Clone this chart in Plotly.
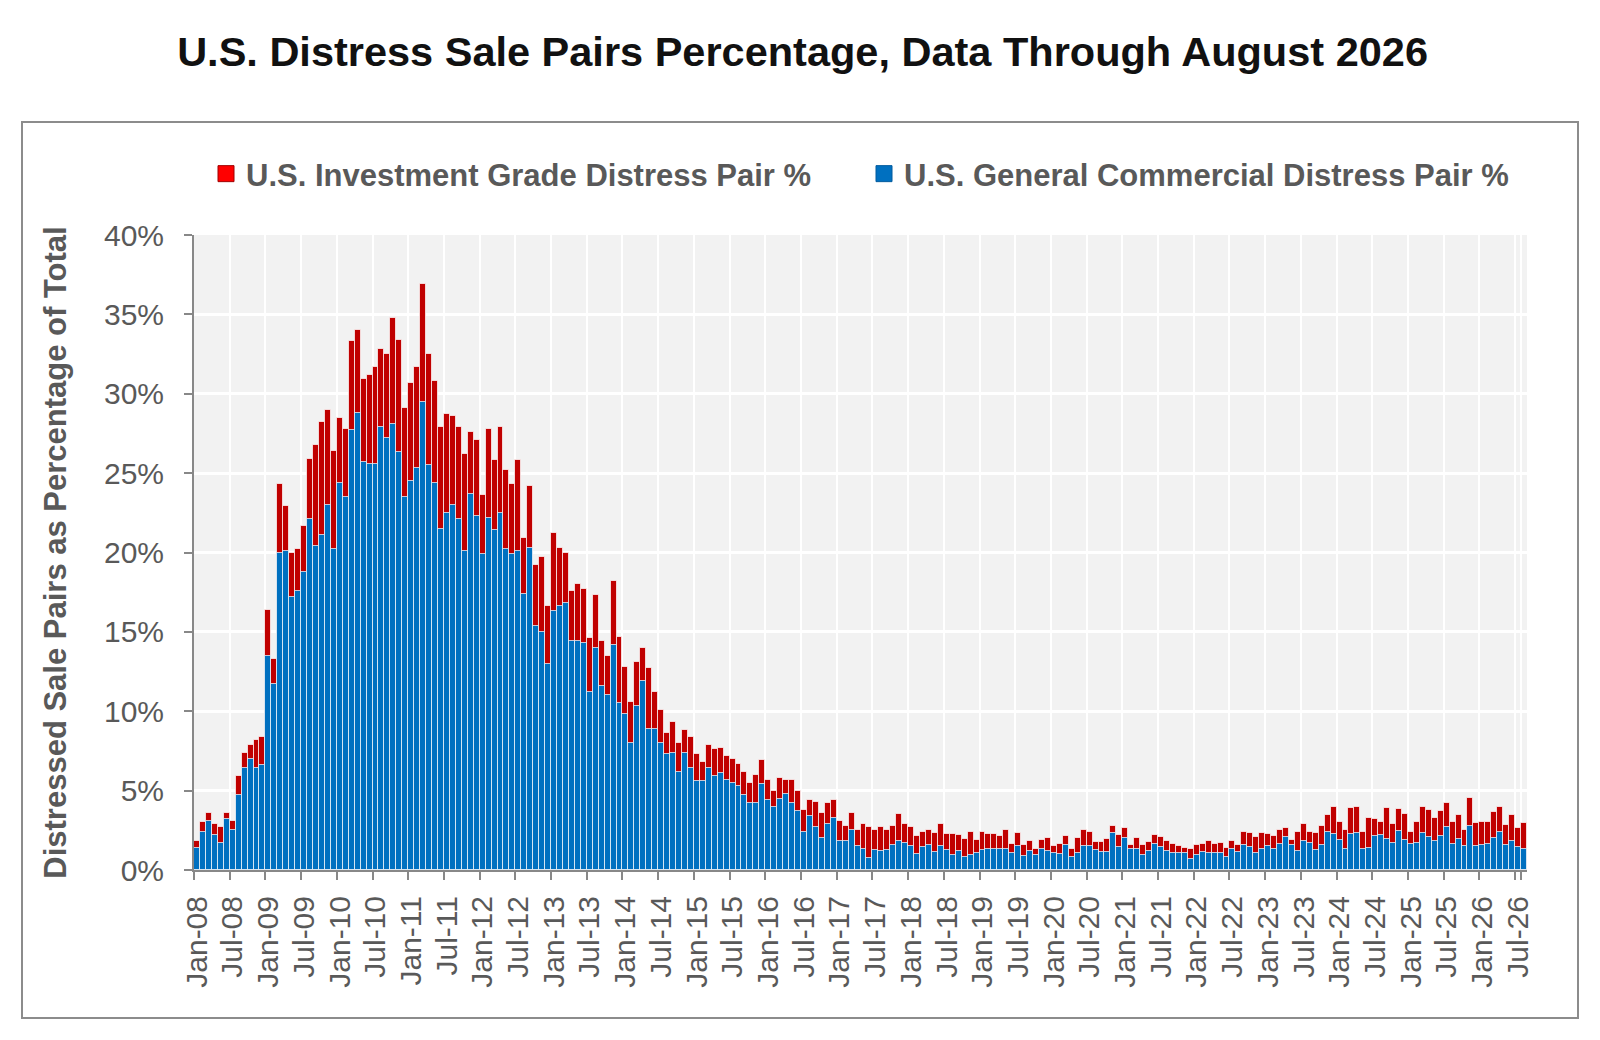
import pandas as pd
import plotly.graph_objects as go

# one bar per month, Jan-08 .. Aug-26
months = pd.date_range("2008-01-01", periods=224, freq="MS").strftime("%b-%y").tolist()
tick_labels = months[::6]  # Jan / Jul only

# investment grade distress pair % (red), one row per year
inv_grade = [
    1.8, 3.0, 3.6, 2.9, 2.7, 3.6, 3.1, 5.9, 7.4, 7.9, 8.2, 8.4,
    16.4, 13.3, 24.3, 22.9, 20.0, 20.2, 21.7, 25.9, 26.8, 28.2, 29.0, 26.4,
    28.5, 27.8, 33.3, 34.0, 30.9, 31.2, 31.7, 32.8, 32.5, 34.8, 33.4, 29.1,
    30.7, 31.7, 36.9, 32.5, 30.8, 27.9, 28.7, 28.6, 27.9, 26.2, 27.6, 27.1,
    23.6, 27.8, 25.8, 27.9, 25.2, 24.3, 25.8, 20.9, 24.2, 19.2, 19.7, 16.6,
    21.2, 20.3, 20.0, 17.6, 18.0, 17.7, 14.6, 17.3, 14.4, 13.5, 18.2, 14.7,
    12.8, 10.6, 13.1, 14.0, 12.7, 11.2, 10.1, 8.6, 9.3, 8.0, 8.8, 8.4,
    7.3, 6.8, 7.9, 7.6, 7.7, 7.2, 7.0, 6.7, 6.2, 5.5, 6.0, 6.9,
    5.7, 5.0, 5.8, 5.7, 5.7, 5.0, 3.8, 4.4, 4.3, 3.6, 4.2, 4.4,
    3.1, 2.75, 3.6, 2.5, 2.9, 2.7, 2.5, 2.7, 2.55, 2.75, 3.55, 2.9,
    2.7, 2.15, 2.4, 2.5, 2.3, 2.9, 2.25, 2.25, 2.2, 1.95, 2.4, 1.9,
    2.4, 2.25, 2.25, 2.15, 2.55, 1.65, 2.3, 1.6, 1.8, 1.35, 1.9, 2.0,
    1.5, 1.65, 2.15, 1.35, 2.0, 2.5, 2.4, 1.75, 1.75, 1.95, 2.8, 2.2,
    2.65, 1.6, 2.0, 1.6, 1.75, 2.2, 2.05, 1.8, 1.65, 1.5, 1.4, 1.35,
    1.55, 1.65, 1.8, 1.65, 1.7, 1.4, 1.8, 1.6, 2.4, 2.3, 2.1, 2.3,
    2.25, 2.15, 2.5, 2.65, 1.9, 2.4, 2.9, 2.4, 2.3, 2.8, 3.45, 4.0,
    3.0, 2.5, 3.9, 3.95, 2.4, 3.3, 3.2, 3.05, 3.9, 2.9, 3.85, 3.5,
    2.4, 3.05, 3.95, 3.8, 3.3, 3.7, 4.25, 3.05, 3.45, 2.5, 4.55, 2.95,
    3.0, 3.0, 3.65, 3.95, 2.85, 3.45, 2.65, 2.95,
]

# general commercial distress pair % (blue)
gen_comm = [
    1.4, 2.4, 3.1, 2.2, 1.7, 3.2, 2.5, 4.7, 6.4, 7.0, 6.4, 6.6,
    13.5, 11.7, 20.0, 20.1, 17.2, 17.6, 18.8, 22.1, 20.4, 21.1, 23.0, 20.2,
    24.4, 23.5, 27.7, 28.8, 25.7, 25.6, 25.6, 27.9, 27.2, 28.1, 26.3, 23.5,
    24.5, 25.3, 29.5, 25.5, 24.4, 21.5, 22.5, 23.0, 22.1, 20.1, 23.7, 22.3,
    19.9, 22.2, 21.4, 22.5, 20.2, 19.9, 20.1, 17.4, 20.3, 15.4, 15.0, 13.0,
    16.3, 16.6, 16.8, 14.4, 14.4, 14.3, 11.2, 14.0, 11.6, 11.0, 14.2, 10.5,
    9.8, 8.0, 10.3, 11.9, 8.9, 8.9, 8.0, 7.3, 7.4, 6.2, 7.4, 6.4,
    5.6, 5.6, 6.4, 5.9, 6.1, 5.7, 5.5, 5.3, 4.7, 4.2, 4.2, 5.4,
    4.4, 4.0, 4.5, 4.8, 4.2, 3.7, 2.4, 3.4, 2.7, 2.0, 2.9, 3.3,
    1.85, 1.8, 2.5, 1.5, 1.35, 0.75, 1.25, 1.2, 1.25, 1.55, 1.8, 1.7,
    1.5, 1.0, 1.45, 1.55, 1.15, 1.5, 1.25, 0.95, 1.2, 0.85, 0.95, 1.05,
    1.25, 1.35, 1.35, 1.3, 1.35, 1.1, 1.5, 0.9, 1.2, 0.95, 1.3, 1.2,
    1.05, 1.0, 1.6, 0.85, 1.05, 1.5, 1.5, 1.25, 1.15, 1.15, 2.3, 1.45,
    2.0, 1.3, 1.3, 0.95, 1.2, 1.65, 1.45, 1.2, 1.1, 1.1, 1.1, 0.7,
    0.95, 1.15, 1.1, 1.1, 1.1, 0.8, 1.3, 1.15, 1.55, 1.45, 1.1, 1.35,
    1.5, 1.3, 1.65, 2.1, 1.6, 1.2, 1.8, 1.7, 1.25, 1.55, 2.4, 2.25,
    1.9, 1.35, 2.25, 2.3, 1.3, 1.4, 2.15, 2.2, 1.95, 1.7, 2.45, 1.9,
    1.65, 1.7, 2.3, 2.1, 1.8, 2.15, 2.7, 1.65, 1.95, 1.5, 2.75, 1.5,
    1.55, 1.65, 2.0, 2.4, 1.6, 1.85, 1.45, 1.35,
]

FONT = "Arial, Liberation Sans, sans-serif"
GREY_TXT = "#595959"
RED, BLUE = "#c00000", "#0070c0"

# plot area in layout pixels (page body adds 8px, so everything is nudged up/left)
L, R, T, B = 186, 1519, 227, 862
def px(x): return (x - L) / (R - L)
def py(y): return (B - y) / (B - T)

fig = go.Figure()
# red behind, blue in front (overlay)
fig.add_trace(go.Bar(x=months, y=inv_grade, marker=dict(color=RED, line=dict(color="rgba(255,255,255,0.7)", width=1)),
                     showlegend=False, name="U.S. Investment Grade Distress Pair %"))
fig.add_trace(go.Bar(x=months, y=gen_comm, marker=dict(color=BLUE, line=dict(color="rgba(255,255,255,0.7)", width=1)),
                     showlegend=False, name="U.S. General Commercial Distress Pair %"))
# legend-only entries so the swatches look like the excel squares
fig.add_trace(go.Scatter(x=[None], y=[None], mode="markers", name="U.S. Investment Grade Distress Pair %",
                         marker=dict(symbol="square", size=19, color="#ff0000", line=dict(color="#a00000", width=1))))
fig.add_trace(go.Scatter(x=[None], y=[None], mode="markers", name="U.S. General Commercial Distress Pair %",
                         marker=dict(symbol="square", size=19, color=BLUE, line=dict(color="#005a9e", width=1))))

fig.update_layout(
    width=1600, height=1040,
    margin=dict(l=L, r=1600 - R, t=T, b=1040 - B, autoexpand=False),
    paper_bgcolor="white", plot_bgcolor="#f2f2f2",
    barmode="overlay", bargap=0,
    font=dict(family=FONT, color=GREY_TXT),
    title=dict(text="U.S. Distress Sale Pairs Percentage, Data Through August 2026",
               x=0.4966, xref="container", y=1 - 43 / 1040, yref="container", yanchor="middle",
               font=dict(family=FONT, size=41.5, color="#111111", weight="bold")),
    legend=dict(orientation="h", x=px(198), xanchor="left", y=py(166), yanchor="middle",
                entrywidth=613, entrywidthmode="pixels",
                font=dict(family=FONT, size=31, color=GREY_TXT, weight="bold"),
                bgcolor="rgba(0,0,0,0)"),
    shapes=[dict(type="rect", xref="paper", yref="paper", x0=px(14), x1=px(1570), y0=py(1010), y1=py(114),
                 line=dict(color="#8c8c8c", width=2), fillcolor="rgba(0,0,0,0)", layer="below")],
)

fig.update_xaxes(
    type="category", categoryorder="array", categoryarray=months,
    tickmode="array", tickvals=tick_labels, ticktext=tick_labels, tickson="boundaries",
    tickangle=-90, tickfont=dict(family=FONT, size=30, color=GREY_TXT), ticklabelstandoff=12,
    ticks="outside", ticklen=8, tickwidth=2, tickcolor="#888888",
    showline=True, linecolor="#888888", linewidth=2,
    showgrid=True, gridcolor="white", gridwidth=2, automargin=False,
)
fig.update_yaxes(
    range=[0, 40], tickmode="linear", tick0=0, dtick=5, ticksuffix="%",
    tickfont=dict(family=FONT, size=30, color=GREY_TXT), ticklabelstandoff=14,
    ticks="outside", ticklen=8, tickwidth=2, tickcolor="#888888",
    showline=True, linecolor="#888888", linewidth=2,
    showgrid=True, gridcolor="white", gridwidth=2.5, zeroline=False, automargin=False,
    title=dict(text="Distressed Sale Pairs as Percentage of Total", standoff=28,
               font=dict(family=FONT, size=31, color=GREY_TXT, weight="bold")),
)

fig.write_html("out.html")
